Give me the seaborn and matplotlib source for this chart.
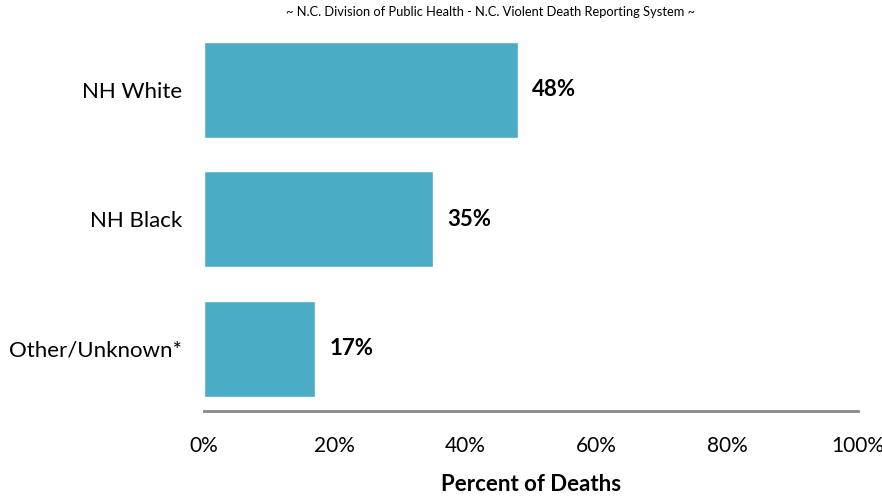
import pandas as pd
import matplotlib
matplotlib.use("Agg")
import matplotlib.pyplot as plt
import seaborn as sns

# data
groups = ["NH White", "NH Black", "Other/Unknown*"]
percents = [48, 35, 17]
tick_vals = [0, 20, 40, 60, 80, 100]

df = pd.DataFrame({"group": groups, "pct": percents})

sns.set_style("white")
plt.rcParams["font.family"] = ["Lato", "DejaVu Sans"]
plt.rcParams["text.color"] = "black"
plt.rcParams["xtick.color"] = "black"
plt.rcParams["ytick.color"] = "black"
plt.rcParams["axes.labelcolor"] = "black"

fig = plt.figure(figsize=(8.82, 4.98), dpi=100)
ax = fig.add_axes([204 / 882, 1 - 411 / 498, 654 / 882, 386 / 498])

sns.barplot(data=df, x="pct", y="group", color="#4BACC6", saturation=1,
            width=0.74, ax=ax)

ax.set_xlim(0, 100)
ax.set_ylim(2.48, -0.5)
ax.set_xticks(tick_vals)
ax.set_xticklabels([f"{v}%" for v in tick_vals], fontsize=15)
ax.tick_params(axis="x", length=0, pad=18)
ax.tick_params(axis="y", length=0, pad=16, labelsize=16)
ax.set_ylabel("")
ax.set_xlabel("Percent of Deaths", fontsize=16, fontweight="bold", labelpad=13)

for s in ["top", "right", "left"]:
    ax.spines[s].set_visible(False)
ax.spines["bottom"].set_color("#888888")
ax.spines["bottom"].set_linewidth(2)

# value labels
for i, v in enumerate(percents):
    ax.text(v + 2.2, i, f"{v}%", va="center", ha="left",
            fontsize=16, fontweight="bold")

fig.text(491 / 882, 1 - 12 / 498,
         "~ N.C. Division of Public Health - N.C. Violent Death Reporting System ~",
         ha="center", va="center", fontsize=9.3)

fig.savefig("out.png", dpi=100)
